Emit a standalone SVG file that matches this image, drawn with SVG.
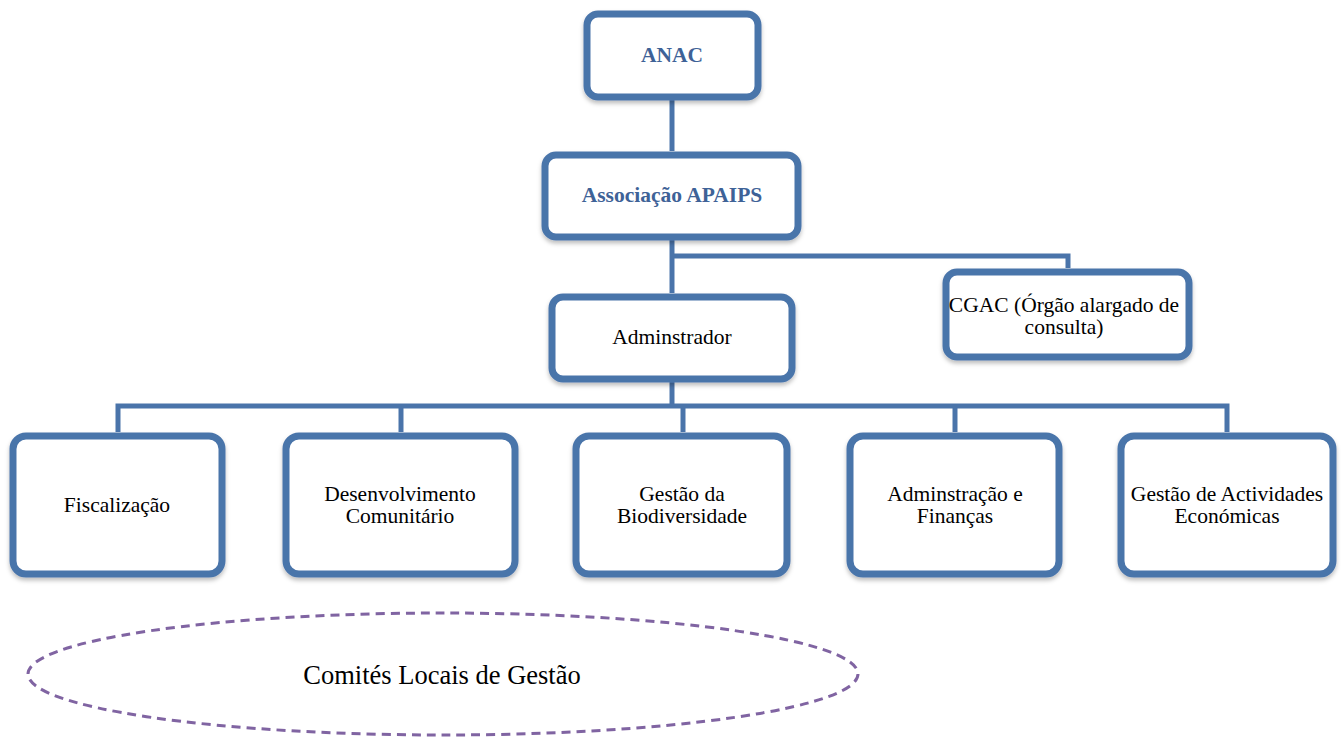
<svg xmlns="http://www.w3.org/2000/svg" width="1341" height="737" viewBox="0 0 1341 737">
<defs>
<filter id="sh" x="-10%" y="-10%" width="120%" height="130%">
<feDropShadow dx="0" dy="3" stdDeviation="2" flood-color="#000" flood-opacity="0.25"/>
</filter>
<style>
.box{fill:#fff;stroke:#4A74AA;stroke-width:7;filter:url(#sh)}
.conn{stroke:#4A74AA;stroke-width:5;fill:none}
.t{font-family:"Liberation Serif","Times New Roman",serif;font-size:21.5px;fill:#000;text-anchor:middle}
.b{font-weight:bold;fill:#3E6297}
</style>
</defs>
<rect width="1341" height="737" fill="#fff"/>
<g id="connectors">
<path class="conn" d="M672 100V151"/>
<path class="conn" d="M672 240V293"/>
<path class="conn" d="M672 256H1068V268"/>
<path class="conn" d="M672 382V406"/>
<path class="conn" d="M118 432V406H1227V432"/>
<path class="conn" d="M401 406V432"/>
<path class="conn" d="M683 406V432"/>
<path class="conn" d="M955 406V432"/>
</g>
<g id="anac">
<rect class="box" x="587" y="14" width="171" height="83" rx="11"/>
<text class="t b" x="672" y="62">ANAC</text>
</g>
<g id="apaips">
<rect class="box" x="545" y="155" width="253" height="82" rx="11"/>
<text class="t b" x="672" y="202">Associação APAIPS</text>
</g>
<g id="cgac">
<rect class="box" x="946" y="272" width="243" height="85" rx="11"/>
<text class="t" x="1064" y="312">CGAC (Órgão alargado de</text>
<text class="t" x="1064" y="334">consulta)</text>
</g>
<g id="adminstrador">
<rect class="box" x="552" y="297" width="240" height="82" rx="11"/>
<text class="t" x="672" y="344">Adminstrador</text>
</g>
<g id="fiscalizacao">
<rect class="box" x="13" y="436" width="209" height="138" rx="13"/>
<text class="t" x="117" y="512">Fiscalização</text>
</g>
<g id="desenvolvimento">
<rect class="box" x="286" y="436" width="229" height="138" rx="13"/>
<text class="t" x="400" y="501">Desenvolvimento</text>
<text class="t" x="400" y="523">Comunitário</text>
</g>
<g id="biodiversidade">
<rect class="box" x="576" y="436" width="211" height="138" rx="13"/>
<text class="t" x="682" y="501">Gestão da</text>
<text class="t" x="682" y="523">Biodiversidade</text>
</g>
<g id="financas">
<rect class="box" x="850" y="436" width="209" height="138" rx="13"/>
<text class="t" x="955" y="501">Adminstração e</text>
<text class="t" x="955" y="523">Finanças</text>
</g>
<g id="actividades">
<rect class="box" x="1121" y="436" width="212" height="138" rx="13"/>
<text class="t" x="1227" y="501">Gestão de Actividades</text>
<text class="t" x="1227" y="523">Económicas</text>
</g>
<g id="comites">
<ellipse cx="443" cy="674" rx="415" ry="61" fill="none" stroke="#8064A2" stroke-width="3" stroke-dasharray="9,6"/>
<text class="t" x="442" y="684" style="font-size:26.5px">Comités Locais de Gestão</text>
</g>
</svg>
